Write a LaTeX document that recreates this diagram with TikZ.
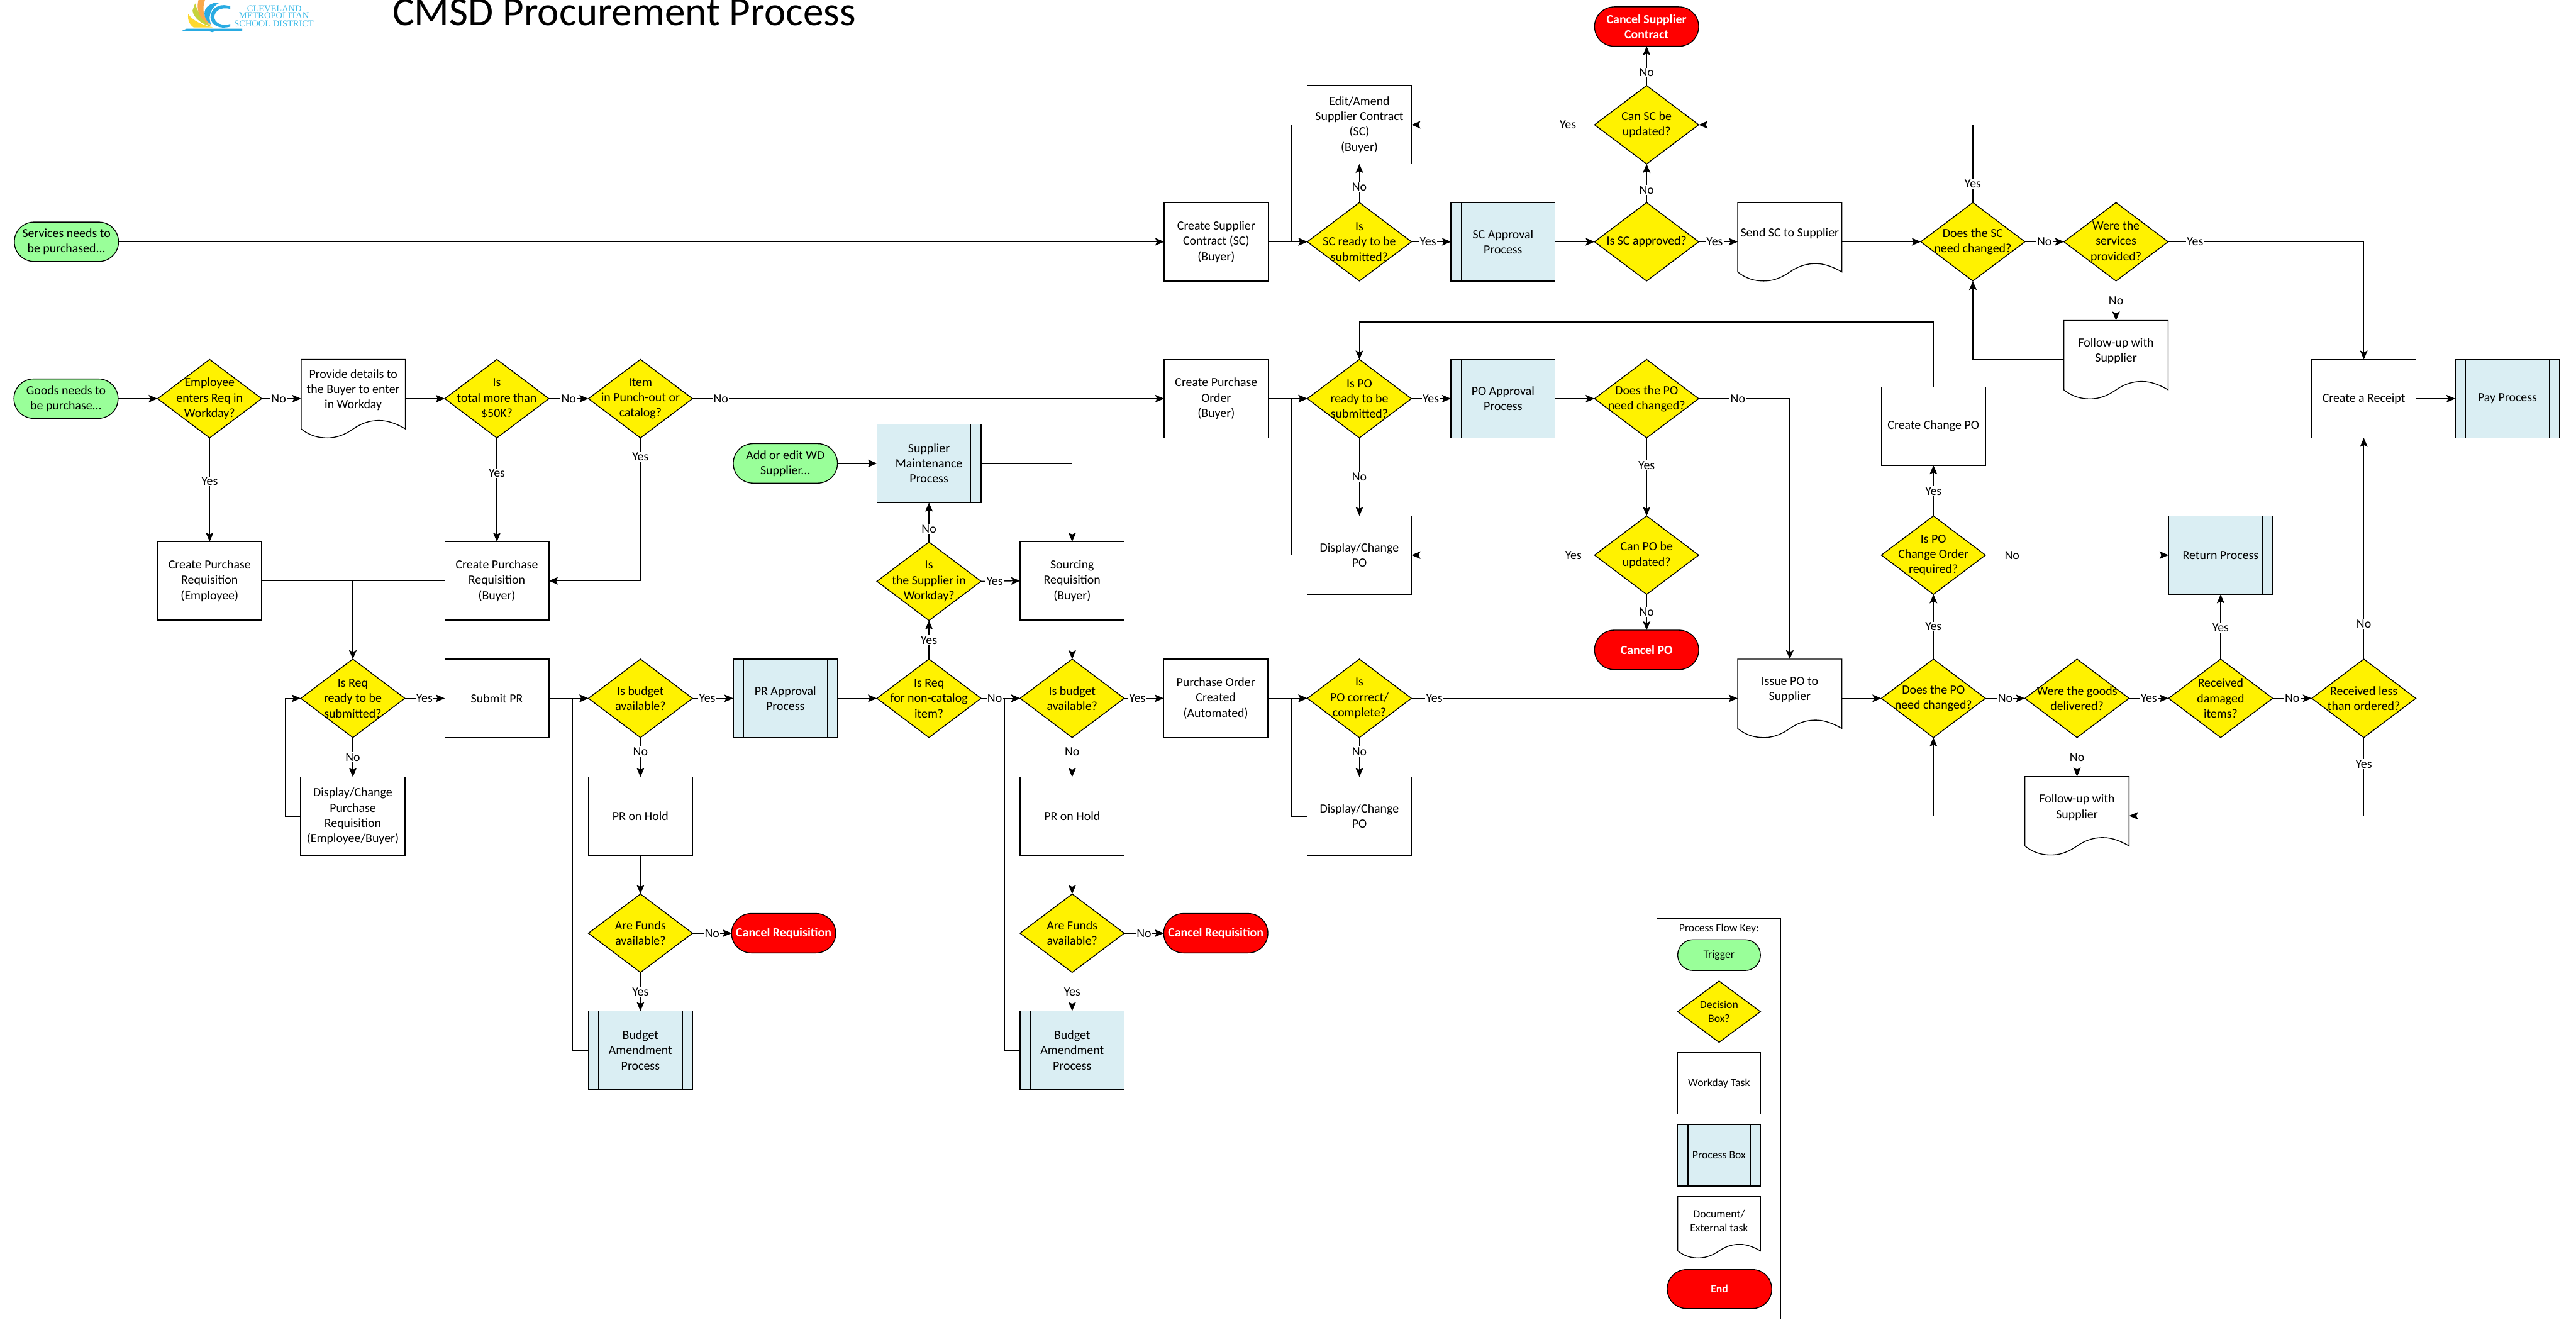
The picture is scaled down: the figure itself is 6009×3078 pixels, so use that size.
\documentclass[tikz,border=0pt]{standalone}
\usepackage{fontspec}
\setmainfont{Carlito}
\newfontfamily\logofont{Liberation Serif}
\usetikzlibrary{shapes.geometric,shapes.misc,arrows.meta}
\definecolor{trigcol}{HTML}{99FF99}
\definecolor{proccol}{HTML}{DAEEF3}
\definecolor{logoblue}{HTML}{29ABE2}
\definecolor{logotxt}{HTML}{3DBBE8}
\definecolor{logoyel}{HTML}{FFD92F}
\definecolor{logogrn}{HTML}{C6D23C}
\definecolor{logoorg}{HTML}{F9A94B}
\newcommand{\mainf}{\fontsize{7.3}{8.9}\selectfont}
\newcommand{\keyf}{\fontsize{6.5}{7.9}\selectfont}
\tikzset{
  ln/.style={line width=0.5pt,draw=black},
  arr/.style={ln,-{Stealth[length=5.2pt,width=4.4pt,inset=1pt]}},
  lab/.style={font=\mainf,fill=white,inner sep=0.5pt},
  taskbox/.style={ln,fill=white,rectangle,minimum width=60.75pt,minimum height=45.75pt,inner sep=0pt,outer sep=0pt,align=center,font=\mainf},
  procbox/.style={taskbox,fill=proccol},
  decbox/.style={ln,fill=yellow,diamond,minimum width=60.75pt,minimum height=45.75pt,inner sep=0pt,outer sep=0pt},
  dectext/.style={align=center,font=\mainf,inner sep=0pt},
  trigbox/.style={ln,fill=trigcol,rounded rectangle,minimum width=60.75pt,minimum height=23pt,inner sep=0pt,outer sep=0pt,align=center,font=\mainf},
  endbox/.style={trigbox,fill=red,text=white,font=\mainf\bfseries}
}
\newcommand{\TaskBox}[4]{\node[taskbox](#1) at (#2,#3){#4};}
\newcommand{\ProcBox}[4]{\node[procbox](#1) at (#2,#3){#4};
  \draw[ln] ([xshift=6pt]#1.north west)--([xshift=6pt]#1.south west);
  \draw[ln] ([xshift=-6pt]#1.north east)--([xshift=-6pt]#1.south east);}
\newcommand{\DecBox}[4]{\node[decbox](#1) at (#2,#3){};\node[dectext](#1-t) at (#1){#4};}
% general wavy document: name, x, y, w(px), h(px), text, font, lift
\newcommand{\DocGen}[8]{%
  \begin{scope}[shift={(#2,#3)},xscale=#4,yscale=#5]
    \draw[ln,fill=white] (-.5,-.5)--(.5,-.5)--(.5,.385)
      .. controls (.43,.33) and (.34,.278) .. (.25,.278)
      .. controls (.14,.278) and (.06,.33) .. (0,.385)
      .. controls (-.06,.44) and (-.14,.5) .. (-.25,.5)
      .. controls (-.34,.5) and (-.42,.47) .. (-.5,.385) -- cycle;
  \end{scope}
  \node[rectangle,inner sep=0pt,outer sep=0pt,minimum width=#4*0.25pt,minimum height=#5*0.25pt](#1) at (#2,#3){};
  \node[dectext,font=#7,yshift=#8](#1-t) at (#1){#6};}
\newcommand{\DocBox}[4]{\DocGen{#1}{#2}{#3}{243}{183}{#4}{\mainf}{5pt}}
\begin{document}
\begin{tikzpicture}[x=0.25pt,y=-0.25pt]
\useasboundingbox (0,0) rectangle (6009,3078);
\fill[white] (0,0) rectangle (6009,3078);

% ---- logo and title
\fill[logoyel] (439,33) .. controls (450,48) and (470,58) .. (497,64) -- (452,64) .. controls (442,58) and (437,45) .. (439,33) -- cycle;
\fill[logogrn] (455,8) .. controls (462,30) and (475,50) .. (494,62) .. controls (470,57) and (452,42) .. (449,25) -- cycle;
\fill[logoorg] (478,0) .. controls (470,25) and (476,45) .. (493,58) .. controls (470,50) and (456,28) .. (463,0) -- cycle;
\fill[logoblue] (513,6) .. controls (490,5) and (476,18) .. (477,33) .. controls (478,45) and (485,53) .. (493,57) .. controls (485,45) and (488,18) .. (513,6) -- cycle;
\fill[logoblue] (537,15) .. controls (510,5) and (491,22) .. (491,40) .. controls (491,56) and (510,70) .. (537,62) -- (537,56) .. controls (515,62) and (500,52) .. (500,40) .. controls (500,26) and (515,15) .. (537,21) -- cycle;
\fill[logoblue] (424,72) -- (435,67) -- (565,67) -- (565,72) -- (505,72) -- (495,75) -- (485,72) -- cycle;
\node[font={\logofont\fontsize{5.3}{5.3}\selectfont},text=logotxt,inner sep=0pt](logoa) at (640,20){CLEVELAND};
\node[font={\logofont\fontsize{5.3}{5.3}\selectfont},text=logotxt,inner sep=0pt](logob) at (639,37){METROPOLITAN};
\node[font={\logofont\fontsize{5.3}{5.3}\selectfont},text=logotxt,inner sep=0pt](logoc) at (639,55){SCHOOL DISTRICT};
\node[anchor=base west,inner sep=0pt,font=\fontsize{23.9}{28}\selectfont](title) at (915,60){CMSD Procurement Process};

% ---- top row (services)
\node[trigbox](svc) at (155,564){Services needs to\\be purchased...};
\TaskBox{csc}{2837}{564}{Create Supplier\\Contract (SC)\\(Buyer)}
\DecBox{isc}{3171}{564}{Is\\SC ready to be\\submitted?}
\TaskBox{amend}{3171}{291}{Edit/Amend\\Supplier Contract\\(SC)\\(Buyer)}
\ProcBox{sca}{3506}{564}{SC Approval\\Process}
\DecBox{scok}{3841}{564}{Is SC approved?}
\DecBox{can}{3841}{291}{Can SC be\\updated?}
\node[endbox](cansc) at (3841,62){Cancel Supplier\\Contract};
\DocBox{send}{4175}{564}{Send SC to Supplier}
\DecBox{dsc}{4602}{564}{Does the SC\\need changed?}
\DecBox{were}{4936}{564}{Were the\\services\\provided?}
\DocBox{fua}{4936}{839}{Follow-up with\\Supplier}
\TaskBox{rcpt}{5514}{930}{Create a Receipt}
\ProcBox{pay}{5849}{930}{Pay Process}

% ---- goods row
\node[trigbox](goods) at (154,930){Goods needs to\\be purchase...};
\DecBox{emp}{489}{930}{Employee\\enters Req in\\Workday?}
\DocBox{prov}{824}{930}{Provide details to\\the Buyer to enter\\in Workday}
\DecBox{tot}{1159}{930}{Is\\total more than\\\$50K?}
\DecBox{item}{1494}{930}{Item\\in Punch-out or\\catalog?}
\TaskBox{cpo}{2837}{930}{Create Purchase\\Order\\(Buyer)}
\DecBox{ipo}{3171}{930}{Is PO\\ready to be\\submitted?}
\ProcBox{poa}{3506}{930}{PO Approval\\Process}
\DecBox{dpo}{3841}{930}{Does the PO\\need changed?}
\TaskBox{dcp}{3171}{1295}{Display/Change\\PO}
\DecBox{canpo}{3841}{1295}{Can PO be\\updated?}
\node[endbox](cancelpo) at (3841,1516){Cancel PO};
\TaskBox{cco}{4510}{994}{Create Change PO}
\DecBox{ipoc}{4510}{1295}{Is PO\\Change Order\\required?}
\ProcBox{ret}{5180}{1295}{Return Process}

% ---- requisition row
\TaskBox{cpre}{489}{1355}{Create Purchase\\Requisition\\(Employee)}
\TaskBox{cprb}{1159}{1355}{Create Purchase\\Requisition\\(Buyer)}
\node[trigbox](addwd) at (1832,1081){Add or edit WD\\Supplier...};
\ProcBox{smp}{2167}{1081}{Supplier\\Maintenance\\Process}
\DecBox{isup}{2167}{1356}{Is\\the Supplier in\\Workday?}
\TaskBox{src}{2501}{1355}{Sourcing\\Requisition\\(Buyer)}

\DecBox{irs}{823}{1629}{Is Req\\ready to be\\submitted?}
\TaskBox{sub}{1159}{1629}{Submit PR}
\DecBox{buda}{1494}{1629}{Is budget\\available?}
\ProcBox{pra}{1832}{1629}{PR Approval\\Process}
\DecBox{ireq}{2167}{1629}{Is Req\\for non-catalog\\item?}
\DecBox{budb}{2501}{1629}{Is budget\\available?}
\TaskBox{pocr}{2836}{1629}{Purchase Order\\Created\\(Automated)}
\DecBox{icor}{3171}{1629}{Is\\PO correct/\\complete?}
\DocBox{issue}{4175}{1629}{Issue PO to\\Supplier}
\DecBox{dpob}{4510}{1629}{Does the PO\\need changed?}
\DecBox{wg}{4845}{1629}{Were the goods\\delivered?}
\DecBox{rd}{5180}{1629}{Received\\damaged\\items?}
\DecBox{rl}{5514}{1629}{Received less\\than ordered?}

\TaskBox{disp}{823}{1904}{Display/Change\\Purchase\\Requisition\\(Employee/Buyer)}
\TaskBox{holda}{1494}{1904}{PR on Hold}
\TaskBox{holdb}{2501}{1904}{PR on Hold}
\TaskBox{dcq}{3171}{1904}{Display/Change\\PO}
\DocBox{fub}{4845}{1903}{Follow-up with\\Supplier}

\DecBox{funa}{1494}{2177}{Are Funds\\available?}
\node[endbox](cana) at (1828,2177){Cancel Requisition};
\DecBox{funb}{2501}{2177}{Are Funds\\available?}
\node[endbox](canb) at (2836,2177){Cancel Requisition};
\ProcBox{baa}{1494}{2450}{Budget\\Amendment\\Process}
\ProcBox{bab}{2501}{2450}{Budget\\Amendment\\Process}

% ---- connectors: top row
\draw[arr] (svc.east)--(csc.west);
\draw[arr] (csc.east)--(isc.west);
\coordinate (amx) at (3013,291);
\coordinate (amy) at (3013,564);
\draw[arr] (amend.west)--(amx)--(amy)--(isc.west);
\draw[arr] (isc.north)--node[lab,pos=.41]{No}(amend.south);
\draw[arr] (isc.east)--node[lab,pos=.42]{Yes}(sca.west);
\draw[arr] (sca.east)--(scok.west);
\draw[arr] (scok.north)--node[lab,pos=.33]{No}(can.south);
\draw[arr] (scok.east)--node[lab,pos=.41]{Yes}(send.west);
\draw[arr] (send.east)--(dsc.west);
\draw[arr] (can.north)--node[lab,pos=.33]{No}(cansc.south);
\draw[arr] (can.west)--node[lab,pos=.145]{Yes}(amend.east);
\draw[arr] (dsc.north)--node[lab,pos=.24]{Yes}(dsc.north|-can.east)--(can.east);
\draw[arr] (dsc.east)--node[lab,pos=.5]{No}(were.west);
\draw[arr] (were.east)--node[lab,pos=.138]{Yes}(rcpt.north|-were.east)--(rcpt.north);
\draw[arr] (were.south)--node[lab,pos=.5]{No}(fua.north);
\draw[arr] (fua.west)--(dsc.south|-fua.west)--(dsc.south);
\draw[arr] (rcpt.east)--(pay.west);

% ---- connectors: goods row
\draw[arr] (goods.east)--(emp.west);
\draw[arr] (emp.east)--node[lab,pos=.43]{No}(prov.west);
\draw[arr] (prov.east)--(tot.west);
\draw[arr] (tot.east)--node[lab,pos=.5]{No}(item.west);
\draw[arr] (item.east)--node[lab,pos=.06]{No}(cpo.west);
\draw[arr] (cpo.east)--(ipo.west);
\draw[arr] (ipo.east)--node[lab,pos=.49]{Yes}(poa.west);
\draw[arr] (poa.east)--(dpo.west);
\draw[arr] (dpo.east)--node[lab,pos=.43]{No}(issue.north|-dpo.east)--(issue.north);
\draw[arr] (dpo.south)--node[lab,pos=.35]{Yes}(canpo.north);
\draw[arr] (canpo.west)--node[lab,pos=.115]{Yes}(dcp.east);
\draw[arr] (canpo.south)--node[lab,pos=.5]{No}(cancelpo.north);
\draw[arr] (ipo.south)--node[lab,pos=.5]{No}(dcp.north);
\coordinate (pox) at (3013,1295);
\coordinate (poy) at (3013,930);
\draw[arr] (dcp.west)--(pox)--(poy)--(ipo.west);
\coordinate (chy) at (4510,751);
\draw[arr] (cco.north)--(chy)--(ipo.north|-chy)--(ipo.north);

% ---- connectors: supplier
\draw[arr] (addwd.east)--(smp.west);
\draw[arr] (isup.north)--node[lab,pos=.33]{No}(smp.south);
\draw[arr] (smp.east)--(src.north|-smp.east)--(src.north);
\draw[arr] (isup.east)--node[lab,pos=.35]{Yes}(src.west);
\draw[arr] (ireq.north)--node[lab,pos=.49]{Yes}(isup.south);
\draw[arr] (ireq.east)--node[lab,pos=.35]{No}(budb.west);
\draw[arr] (src.south)--(budb.north);
\draw[arr] (budb.east)--node[lab,pos=.33]{Yes}(pocr.west);
\draw[arr] (budb.south)--node[lab,pos=.35]{No}(holdb.north);
\draw[arr] (holdb.south)--(funb.north);
\draw[arr] (funb.east)--node[lab,pos=.5]{No}(canb.west);
\draw[arr] (funb.south)--node[lab,pos=.5]{Yes}(bab.north);
\coordinate (bbx) at (2344,2450);
\coordinate (bby) at (2344,1629);
\draw[arr] (bab.west)--(bbx)--(bby)--(budb.west);
\draw[arr] (pocr.east)--(icor.west);
\draw[arr] (icor.east)--node[lab,pos=.07]{Yes}(issue.west);
\draw[arr] (icor.south)--node[lab,pos=.35]{No}(dcq.north);
\coordinate (dqx) at (3013,1904);
\coordinate (dqy) at (3013,1629);
\draw[arr] (dcq.west)--(dqx)--(dqy)--(icor.west);

% ---- connectors: requisition
\draw[arr] (emp.south)--node[lab,pos=.42]{Yes}(cpre.north);
\draw[arr] (tot.south)--node[lab,pos=.34]{Yes}(cprb.north);
\draw[arr] (item.south)--node[lab,pos=.13]{Yes}(item.south|-cprb.east)--(cprb.east);
\draw[ln] (cpre.east)--(cprb.west);
\draw[arr] (irs.north|-cpre.east)--(irs.north);
\draw[arr] (irs.east)--node[lab,pos=.49]{Yes}(sub.west);
\draw[arr] (irs.south)--node[lab,pos=.5]{No}(disp.north);
\coordinate (dsx) at (666,1904);
\coordinate (dsy) at (666,1629);
\draw[arr] (disp.west)--(dsx)--(dsy)--(irs.west);
\draw[arr] (sub.east)--(buda.west);
\draw[arr] (buda.east)--node[lab,pos=.36]{Yes}(pra.west);
\draw[arr] (pra.east)--(ireq.west);
\draw[arr] (buda.south)--node[lab,pos=.35]{No}(holda.north);
\draw[arr] (holda.south)--(funa.north);
\draw[arr] (funa.east)--node[lab,pos=.5]{No}(cana.west);
\draw[arr] (funa.south)--node[lab,pos=.5]{Yes}(baa.north);
\coordinate (bax) at (1335,2450);
\coordinate (bay) at (1335,1629);
\draw[arr] (baa.west)--(bax)--(bay)--(buda.west);

% ---- connectors: right lower
\draw[arr] (issue.east)--(dpob.west);
\draw[arr] (dpob.north)--node[lab,pos=.5]{Yes}(ipoc.south);
\draw[arr] (ipoc.north)--node[lab,pos=.49]{Yes}(cco.south);
\draw[arr] (ipoc.east)--node[lab,pos=.145]{No}(ret.west);
\draw[arr] (dpob.east)--node[lab,pos=.5]{No}(wg.west);
\draw[arr] (wg.east)--node[lab,pos=.5]{Yes}(rd.west);
\draw[arr] (wg.south)--node[lab,pos=.5]{No}(fub.north);
\draw[arr] (rd.north)--node[lab,pos=.48]{Yes}(ret.south);
\draw[arr] (rd.east)--node[lab,pos=.5]{No}(rl.west);
\draw[arr] (rl.north)--node[lab,pos=.16]{No}(rcpt.south);
\draw[arr] (rl.south)--node[lab,pos=.34]{Yes}(rl.south|-fub.east)--(fub.east);
\draw[arr] (fub.west)--(dpob.south|-fub.west)--(dpob.south);

% ---- key
\draw[ln] (3865,3078)--(3865,2143)--(4154,2143)--(4154,3078);
\node[font=\keyf,inner sep=0pt](keyt) at (4010,2166){Process Flow Key:};
\node[trigbox,minimum width=48.25pt,minimum height=18pt,font=\keyf](kta) at (4010,2228){Trigger};
\node[decbox,minimum width=48.25pt,minimum height=35.75pt](ktb) at (4010,2360){};
\node[dectext,font=\keyf](ktbt) at (ktb){Decision\\Box?};
\node[taskbox,minimum width=48.25pt,minimum height=36pt,font=\keyf](ktc) at (4010,2527){Workday Task};
\node[procbox,minimum width=48.25pt,minimum height=36pt,font=\keyf](ktd) at (4010,2695){Process Box};
\draw[ln] ([xshift=6pt]ktd.north west)--([xshift=6pt]ktd.south west);
\draw[ln] ([xshift=-6pt]ktd.north east)--([xshift=-6pt]ktd.south east);
\DocGen{kte}{4010}{2863}{193}{143}{Document/\\External task}{\keyf}{3.75pt}
\node[endbox,minimum width=61pt,minimum height=22.75pt,font=\keyf\bfseries](ktf) at (4011,3007){End};
\end{tikzpicture}
\end{document}
